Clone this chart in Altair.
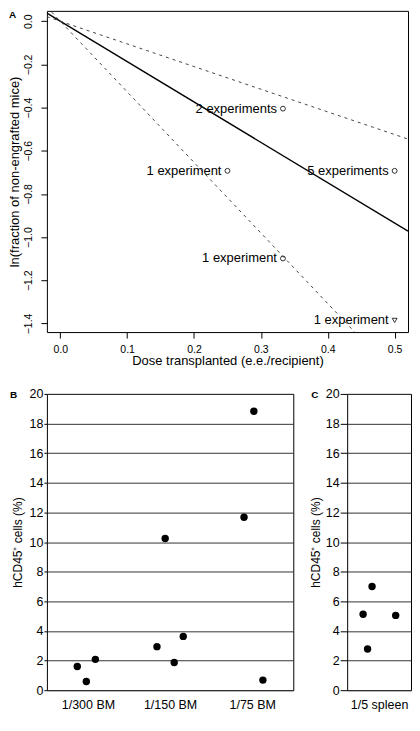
import altair as alt
import pandas as pd

FONT = "Liberation Sans"

# ---------------- Panel A data ----------------
doses = [0.25, 0.333, 0.333, 0.5, 0.5]
ln_frac = [-0.693, -0.405, -1.099, -0.693, -1.386]
exp_labels = ["1 experiment", "2 experiments", "1 experiment", "5 experiments", "1 experiment"]
point_shapes = ["circle", "circle", "circle", "circle", "triangle-down"]

line_names = ["estimate", "upper", "lower"]
line_slopes = [-1.87, -1.05, -3.27]
line_styles = ["solid", "dashed", "dashed"]
dose_range = [-0.02, 0.52]
ln_range = [-1.44, 0.048]
dose_ticks = [0.0, 0.1, 0.2, 0.3, 0.4, 0.5]
ln_ticks = [0.0, -0.2, -0.4, -0.6, -0.8, -1.0, -1.2, -1.4]

# ---------------- Panel B data ----------------
b_groups = ["1/300 BM", "1/150 BM", "1/75 BM"]
b_group_idx = [1, 1, 1, 2, 2, 2, 2, 3, 3, 3]
b_jitter = [-0.13, -0.02, 0.09, -0.16, -0.06, 0.05, 0.16, -0.10, 0.02, 0.13]
b_values = [1.6, 0.59, 2.08, 2.94, 10.24, 1.87, 3.63, 11.67, 18.83, 0.68]

# ---------------- Panel C data ----------------
c_groups = ["1/5 spleen"]
c_group_idx = [1, 1, 1, 1]
c_jitter = [-0.25, -0.11, -0.18, 0.26]
c_values = [5.13, 7.0, 2.78, 5.05]

pct_ticks = list(range(0, 21, 2))
y_title = "hCD45\u207a cells (%)"

# ---------------- Panel A ----------------
line_rows = []
for n, s, st in zip(line_names, line_slopes, line_styles):
    for d in dose_range:
        line_rows.append({"line": n, "dose": d, "ln": s * d, "style": st})
lines_df = pd.DataFrame(line_rows)
pts_df = pd.DataFrame({"dose": doses, "ln": ln_frac, "label": exp_labels, "shape": point_shapes})

xA = alt.X(
    "dose:Q",
    scale=alt.Scale(domain=dose_range, nice=False, zero=False),
    axis=alt.Axis(
        values=dose_ticks, format=".1f", title="Dose transplanted (e.e./recipient)",
        domain=False, grid=False, tickSize=6, tickColor="black", labelPadding=6,
        labelFontSize=10.5, labelColor="black", titleFontSize=13, titleFontWeight="normal",
        titleColor="black", titlePadding=0, labelFont=FONT, titleFont=FONT,
    ),
)
yA = alt.Y(
    "ln:Q",
    scale=alt.Scale(domain=ln_range, nice=False, zero=False),
    axis=alt.Axis(
        values=ln_ticks, format=".1f", title="ln(fraction of non-engrafted mice)",
        domain=False, grid=False, tickSize=6, tickColor="black", labelPadding=7,
        labelAngle=270, labelAlign="center", labelBaseline="bottom",
        labelFontSize=10.5, labelColor="black", titleFontSize=13, titleFontWeight="normal",
        titleColor="black", titlePadding=2, labelFont=FONT, titleFont=FONT,
    ),
)

solid = (
    alt.Chart(lines_df)
    .transform_filter("datum.style == 'solid'")
    .mark_line(color="black", strokeWidth=1.3, clip=True)
    .encode(x=xA, y=yA, detail="line:N")
)
dashed = (
    alt.Chart(lines_df)
    .transform_filter("datum.style == 'dashed'")
    .mark_line(color="#444444", strokeWidth=1, strokeDash=[3, 4], clip=True)
    .encode(x=xA, y=yA, detail="line:N")
)
points = (
    alt.Chart(pts_df)
    .mark_point(filled=False, color="black", size=24, strokeWidth=0.8, opacity=1)
    .encode(x=xA, y=yA, shape=alt.Shape("shape:N", scale=None))
)
labels = (
    alt.Chart(pts_df)
    .mark_text(align="right", baseline="middle", dx=-6, fontSize=13, font=FONT, color="black")
    .encode(x=xA, y=yA, text="label:N")
)
tagA = (
    alt.Chart(pd.DataFrame({"t": ["A"]}))
    .mark_text(align="left", baseline="alphabetic", fontSize=10, fontWeight="bold", font=FONT, color="black")
    .encode(x=alt.value(-38), y=alt.value(7), text="t:N")
)
panelA = alt.layer(solid, dashed, points, labels, tagA).properties(width=362, height=322)


# ---------------- Panels B, C ----------------
def dot_panel(groups, idx, jit, vals, width, tick_size, title_pad, tag, tag_x):
    df = pd.DataFrame({"pos": [i + j for i, j in zip(idx, jit)], "val": vals})
    label_expr = "[" + ",".join(["''"] + ["'" + g + "'" for g in groups]) + "][datum.value]"
    x = alt.X(
        "pos:Q",
        scale=alt.Scale(domain=[0.5, len(groups) + 0.5], nice=False, zero=False),
        axis=alt.Axis(
            values=list(range(1, len(groups) + 1)), labelExpr=label_expr, title=None,
            domain=False, ticks=False, grid=False, labelPadding=8, labelFontSize=12.5,
            labelColor="black", labelFont=FONT,
        ),
    )
    y = alt.Y(
        "val:Q",
        scale=alt.Scale(domain=[0, 20], nice=False),
        axis=alt.Axis(
            values=pct_ticks, format="d", title=y_title, domain=False, grid=True,
            gridColor="#333333", gridWidth=1, gridOpacity=1, tickSize=tick_size,
            tickColor="black", labelPadding=1, labelFontSize=12.5, labelColor="black",
            titleFontSize=12, titleFontWeight="normal", titleColor="black", titlePadding=title_pad,
            labelFont=FONT, titleFont=FONT,
        ),
    )
    dots = alt.Chart(df).mark_circle(color="black", size=55, opacity=1).encode(x=x, y=y)
    tagm = (
        alt.Chart(pd.DataFrame({"t": [tag]}))
        .mark_text(align="left", baseline="alphabetic", fontSize=10, fontWeight="bold", font=FONT, color="black")
        .encode(x=alt.value(tag_x), y=alt.value(4), text="t:N")
    )
    return alt.layer(dots, tagm).properties(width=width, height=297)


panelB = dot_panel(b_groups, b_group_idx, b_jitter, b_values, 247, 3, 5, "B", -37)
panelC = dot_panel(c_groups, c_group_idx, c_jitter, c_values, 64, 7, 3, "C", -36)

chart = (
    alt.vconcat(panelA, alt.hconcat(panelB, panelC, spacing=14), spacing=19)
    .properties(padding=0)
    .configure(font=FONT)
    .configure_view(stroke="black", strokeWidth=1)
)

chart.save("out.html", embed_options={"renderer": "svg", "actions": False})
